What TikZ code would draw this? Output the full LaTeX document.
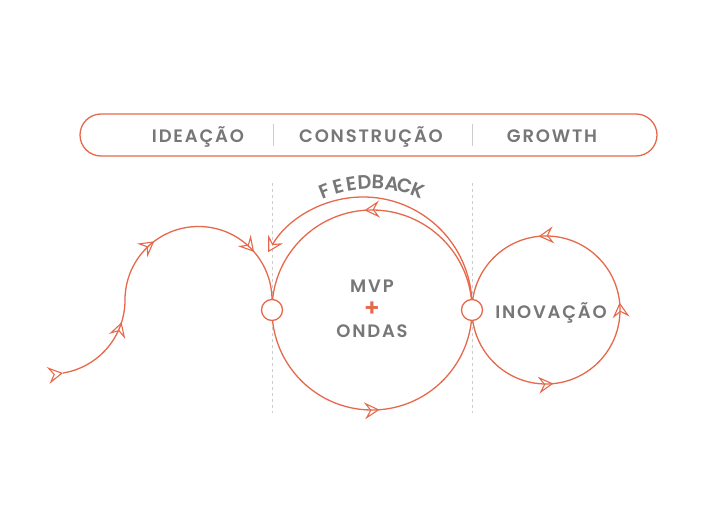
\documentclass[tikz,border=0pt]{standalone}
\usepackage{fontspec}
\setmainfont{Poppins}
\newfontfamily\tagfont{Poppins SemiBold}[LetterSpace=10]
\newfontfamily\signfont{Poppins SemiBold}
\usetikzlibrary{arrows.meta,decorations.markings}
\definecolor{flow}{HTML}{E6694B}
\definecolor{ink}{HTML}{777777}
\definecolor{rule}{HTML}{CDCDCD}
\tikzset{
  flowline/.style={draw=flow,line width=1.3pt},
  flowtip/.style={postaction={decorate,decoration={markings,
      mark=at position #1 with {\arrow[flow]{Stealth[open,length=15pt,width=17pt,inset=5.5pt,line width=1.1pt]}}}}},
  tag/.style={font=\tagfont\fontsize{18}{20}\selectfont,text=ink,anchor=base,inner sep=0pt},
  junction/.style={circle,draw=flow,line width=1.3pt,fill=white,minimum size=21pt,inner sep=0pt},
  guide/.style={draw=rule,line width=0.8pt,dash pattern=on 3pt off 3pt},
}
\begin{document}
\begin{tikzpicture}[x=1pt,y=1pt]
  \useasboundingbox (0,0) rectangle (714,521);
  % phases
  \node[draw=flow,line width=1.3pt,rounded corners=21pt,minimum width=577pt,minimum height=42pt](banner)at(368.5,386){};
  \node[tag](ideacao)at(198,378){IDEAÇÃO};
  \node[tag](construcao)at(371,378){CONSTRUÇÃO};
  \node[tag](growth)at(552,378){GROWTH};
  \draw[rule,line width=0.8pt](273,375)--(273,397);
  \draw[rule,line width=0.8pt](472,375)--(472,397);
  % guides
  \coordinate(jl)at(272,211);
  \coordinate(jr)at(472,211);
  \coordinate(mvp)at(372,211);
  \coordinate(inov)at(546,211);
  \draw[guide](jl)++(0,127)--++(0,-230);
  \draw[guide](jr)++(0,127)--++(0,-230);
  % ideation path
  \draw[flowline,flowtip=0,flowtip=0.784](62.96,147.97)arc[start angle=-80.7,end angle=0,radius=74];
  \draw[flowline,flowtip=0.294,flowtip=0.773](125,221)arc[start angle=180,end angle=0,radius=73.5];
  % mvp loop
  \draw[flowline,flowtip=0.262,flowtip=0.762](mvp)++(100,0)arc[start angle=0,end angle=360,radius=100];
  \draw[flowline,-{Stealth[open,length=15pt,width=17pt,inset=5.5pt,line width=1.1pt]}](jr)++(-0.3,12)arc[start angle=4.2,end angle=150.4,radius=109];
  % innovation loop
  \draw[flowline,flowtip=0.266,flowtip=0.516,flowtip=0.766](inov)++(-74,0)arc[start angle=180,end angle=540,radius=74];
  \node[junction](jlring)at(jl){};
  \node[junction](jrring)at(jr){};
  % labels
  \node[tag](mvplabel)at(372,228){MVP};
  \node[font=\signfont\fontsize{24}{24}\selectfont,text=flow,inner sep=0pt](plus)at(372,212){+};
  \node[tag](ondas)at(372,183){ONDAS};
  \node[tag](inovacao)at(551,202){INOVAÇÃO};
  \foreach \ch/\ang in {F/111.8,E/105.4,E/99.4,D/93.4,B/87.3,A/81.0,C/75.3,K/69.0}
    \path(mvp)++(\ang:128)node[font=\signfont\fontsize{19.5}{20}\selectfont,text=ink,inner sep=0pt,rotate=\ang-90]{\ch};
\end{tikzpicture}
\end{document}
